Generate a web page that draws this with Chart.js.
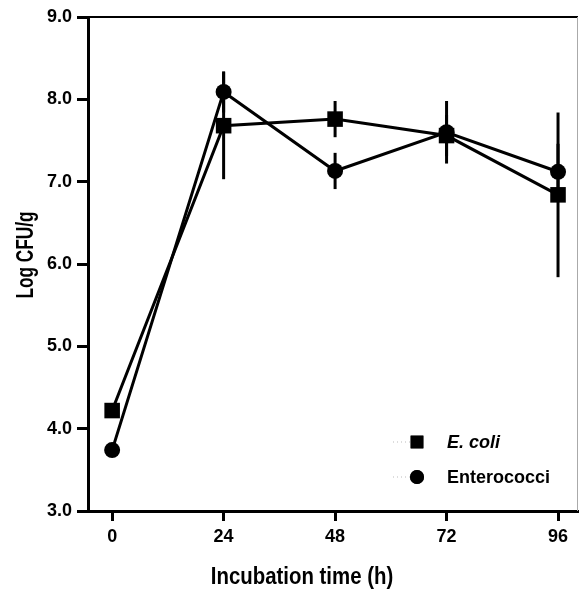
<!DOCTYPE html>
<html>
<head>
<meta charset="utf-8">
<script src="https://cdn.jsdelivr.net/npm/chart.js@4.4.1/dist/chart.umd.min.js"></script>
<style>
  html, body { margin: 0; padding: 0; background: #fff; }
</style>
</head>
<body>
<canvas id="my-chart" width="580" height="592"></canvas>
<script>
// incubation time (h) and log CFU/g
const hours = [0, 24, 48, 72, 96];
const ecoli = [4.22, 7.68, 7.76, 7.56, 6.84];
const ecoliErr = [0, 0.65, 0.22, 0.25, 1.0];
const entero = [3.74, 8.09, 7.13, 7.60, 7.12];
const enteroErr = [0, 0.25, 0.22, 0.38, 0.34];
const yTicks = [3, 4, 5, 6, 7, 8, 9];

const FONT = '"Liberation Sans", Arial, sans-serif';

// vertical error bars, no caps
const errorBars = {
  id: 'errorBars',
  beforeDatasetsDraw(chart) {
    const ctx = chart.ctx;
    const y = chart.scales.y;
    ctx.save();
    ctx.strokeStyle = '#000';
    ctx.lineWidth = 3;
    chart.data.datasets.forEach((ds, i) => {
      const meta = chart.getDatasetMeta(i);
      meta.data.forEach((pt, j) => {
        const e = ds.err[j];
        if (!e) return;
        const v = ds.data[j].y;
        ctx.beginPath();
        ctx.moveTo(pt.x, y.getPixelForValue(v + e));
        ctx.lineTo(pt.x, y.getPixelForValue(v - e));
        ctx.stroke();
      });
    });
    ctx.restore();
  }
};

// condensed text: squeeze horizontally
function narrowText(ctx, text, x, y, sx) {
  ctx.save();
  ctx.translate(x, y);
  ctx.scale(sx, 1);
  ctx.fillText(text, 0, 0);
  ctx.restore();
}

// frame, axis titles and the legend inside the plot
const decorations = {
  id: 'decorations',
  afterDraw(chart) {
    const ctx = chart.ctx;
    const a = chart.chartArea;
    ctx.save();
    // top and right frame
    ctx.strokeStyle = '#000';
    ctx.lineWidth = 2;
    ctx.beginPath();
    ctx.moveTo(a.left, a.top);
    ctx.lineTo(a.right, a.top);
    ctx.stroke();
    ctx.strokeStyle = '#aaa';
    ctx.lineWidth = 1;
    ctx.beginPath();
    ctx.moveTo(a.right - 0.5, a.top);
    ctx.lineTo(a.right - 0.5, a.bottom);
    ctx.stroke();

    // axis titles
    ctx.fillStyle = '#000';
    ctx.textAlign = 'center';
    ctx.textBaseline = 'middle';
    ctx.font = 'bold 24px ' + FONT;
    narrowText(ctx, 'Incubation time (h)', 302, 577, 0.85);
    ctx.save();
    ctx.translate(27, 255);
    ctx.rotate(-Math.PI / 2);
    ctx.font = 'bold 23px ' + FONT;
    narrowText(ctx, 'Log CFU/g', 0, 0, 0.75);
    ctx.restore();

    // legend
    const rows = [442, 477];
    chart.data.datasets.forEach((ds, i) => {
      const yy = rows[i];
      ctx.strokeStyle = '#bbb';
      ctx.lineWidth = 1;
      ctx.setLineDash([1, 3]);
      ctx.beginPath();
      ctx.moveTo(393, yy);
      ctx.lineTo(410, yy);
      ctx.stroke();
      ctx.setLineDash([]);
      Chart.helpers.drawPoint(ctx, {
        pointStyle: ds.pointStyle,
        radius: ds.pointStyle === 'rect' ? 9 : 7,
        rotation: 0,
        borderWidth: 0
      }, 417, yy);
      ctx.fillStyle = '#000';
      ctx.fill();
      ctx.textAlign = 'left';
      ctx.font = (ds.italic ? 'italic ' : '') + 'bold 18px ' + FONT;
      ctx.fillText(ds.label, 447, yy + 1);
    });
    ctx.restore();
  }
};

const ctx = document.getElementById('my-chart').getContext('2d');

new Chart(ctx, {
  type: 'line',
  data: {
    datasets: [
      {
        label: 'E. coli',
        italic: true,
        data: hours.map((h, i) => ({ x: h, y: ecoli[i] })),
        err: ecoliErr,
        pointStyle: 'rect',
        pointRadius: 11,
        pointBorderWidth: 0,
        borderColor: '#000',
        backgroundColor: '#000',
        borderWidth: 3,
        tension: 0
      },
      {
        label: 'Enterococci',
        data: hours.map((h, i) => ({ x: h, y: entero[i] })),
        err: enteroErr,
        pointStyle: 'circle',
        pointRadius: 8,
        pointBorderWidth: 0,
        borderColor: '#000',
        backgroundColor: '#000',
        borderWidth: 3,
        tension: 0
      }
    ]
  },
  options: {
    responsive: false,
    animation: false,
    devicePixelRatio: 1,
    layout: { autoPadding: false, padding: { top: 17, right: 2, left: 0, bottom: 0 } },
    plugins: {
      legend: { display: false },
      tooltip: { enabled: false }
    },
    scales: {
      x: {
        type: 'linear',
        min: -5.2,
        max: 100.3,
        afterBuildTicks: s => { s.ticks = hours.map(v => ({ value: v })); },
        afterFit: s => { s.height = 81; s.paddingLeft = 0; s.paddingRight = 0; },
        grid: { drawOnChartArea: false, drawTicks: true, tickLength: 10, tickWidth: 3, tickColor: '#000' },
        border: { display: true, color: '#000', width: 3 },
        ticks: {
          color: '#000',
          padding: 5,
          font: { family: FONT, size: 18, weight: 'bold' },
          callback: v => String(v)
        }
      },
      y: {
        min: 3,
        max: 9,
        afterBuildTicks: s => { s.ticks = yTicks.map(v => ({ value: v })); },
        afterFit: s => { s.width = 88; s.paddingTop = 0; s.paddingBottom = 0; },
        grid: { drawOnChartArea: false, drawTicks: true, tickLength: 11, tickWidth: 3, tickColor: '#000' },
        border: { display: true, color: '#000', width: 3 },
        ticks: {
          color: '#000',
          padding: 5,
          font: { family: FONT, size: 18, weight: 'bold' },
          callback: v => v.toFixed(1)
        }
      }
    }
  },
  plugins: [errorBars, decorations]
});
</script>
</body>
</html>
